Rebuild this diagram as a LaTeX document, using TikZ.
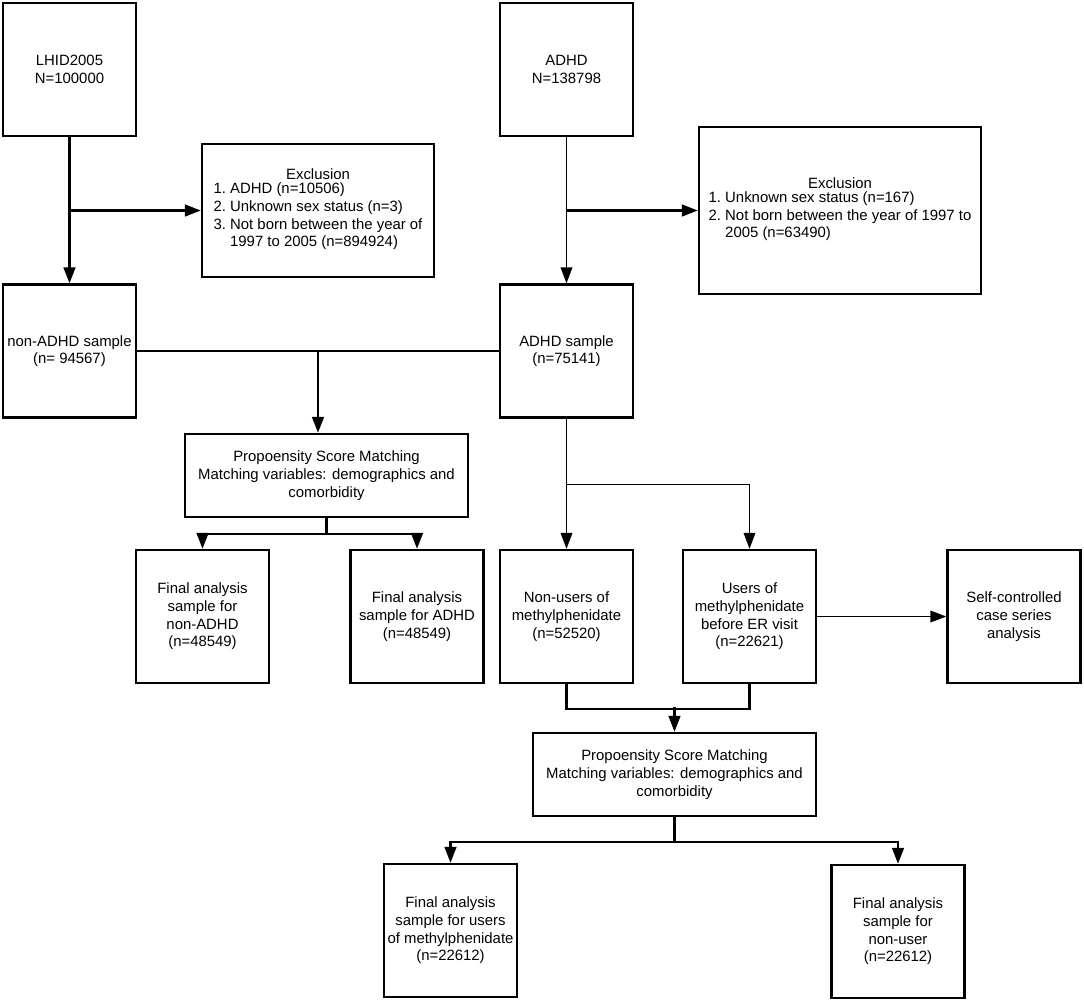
\documentclass[tikz,border=0pt]{standalone}
\usepackage{fontspec}
\setmainfont{Liberation Sans}
\usetikzlibrary{arrows.meta,positioning,calc}

\begin{document}
\begin{tikzpicture}[
    x=0.025cm, y=-0.025cm,
    >={Triangle[length=4mm, width=2.9mm]},
    box/.style={rectangle, draw=black, line width=1.6pt, fill=white,
                minimum width=#1, minimum height=3.325cm, inner sep=2pt,
                align=center, font=\fontsize{10.6}{12.6}\selectfont},
    box/.default=3.325cm,
    arr/.style={->, line width=1.9pt},
    thinarr/.style={->, line width=1.2pt},
    link/.style={line width=1.9pt},
    thinlink/.style={line width=1.2pt},
]
\useasboundingbox (0,0) rectangle (1084,1002);

% ── Source cohorts ──
\node[box] (lhid) at (69.5,69.5) {LHID2005\\N=100000};
\node[box] (adhd) at (566.5,69.5) {ADHD\\N=138798};

% ── Exclusions ──
\node[box=5.8cm] (excl1) at (318,210.5) {Exclusion\\
    \begin{tabular}{@{}r@{\ }l@{}}
    1. & ADHD (n=10506)\\
    2. & Unknown sex status (n=3)\\
    3. & Not born between the year of\\
       & 1997 to 2005 (n=894924)
    \end{tabular}};
\node[box=7.05cm, minimum height=4.175cm] (excl2) at (840,210.5) {Exclusion\\
    \begin{tabular}{@{}r@{\ }l@{}}
    1. & Unknown sex status (n=167)\\
    2. & Not born between the year of 1997 to\\
       & 2005 (n=63490)
    \end{tabular}};

% ── Samples ──
\node[box] (nonadhd) at (69.5,351) {non-ADHD sample\\(n= 94567)};
\node[box] (adhdsample) at (566.5,351) {ADHD sample\\(n=75141)};

% ── First matching and its outcomes ──
\node[box=7.075cm, minimum height=2.075cm] (psmA) at (326.5,475.5)
    {Propoensity Score Matching\\Matching variables: demographics and\\comorbidity};
\node[box] (finalNon) at (202.5,616.5) {Final analysis\\sample for\\non-ADHD\\(n=48549)};
\node[box] (finalAdhd) at (417,616.5) {Final analysis\\sample for ADHD\\(n=48549)};

% ── Methylphenidate groups ──
\node[box] (nonusers) at (566.5,616.5) {Non-users of\\methylphenidate\\(n=52520)};
\node[box] (users) at (749.5,616.5) {Users of\\methylphenidate\\before ER visit\\(n=22621)};
\node[box] (sccs) at (1014,616.5) {Self-controlled\\case series\\analysis};

% ── Second matching and its outcomes ──
\node[box=7.075cm, minimum height=2.075cm] (psmB) at (674.5,774.5)
    {Propoensity Score Matching\\Matching variables: demographics and\\comorbidity};
\node[box] (finalUsers) at (450.5,930.5) {Final analysis\\sample for users\\of methylphenidate\\(n=22612)};
\node[box] (finalNonuser) at (898,931.5) {Final analysis\\sample for\\non-user\\(n=22612)};

% ── Left column ──
\draw[arr] (lhid) -- (nonadhd);
\draw[arr] (lhid.south |- excl1.west) -- (excl1.west);

% ── Right column ──
\draw[thinarr] (adhd) -- (adhdsample);
\draw[arr] (adhd.south |- excl2.west) -- (excl2.west);

% ── Both samples into first matching ──
\draw[thinlink] (nonadhd) -- (adhdsample);
\coordinate (joinA) at ($(nonadhd.east)!0.5!(adhdsample.west)$);
\draw[arr] (joinA) -- (joinA |- psmA.north);
\draw[arr] (psmA.south) -- ++(0,16) -| (finalNon.north);
\draw[arr] (psmA.south) -- ++(0,16) -| (finalAdhd.north);

% ── ADHD sample split by methylphenidate use ──
\draw[thinarr] (adhdsample) -- (nonusers);
\draw[thinarr] (adhdsample.south) -- ++(0,66) -| (users.north);
\draw[thinarr] (users) -- (sccs);

% ── Both groups into second matching ──
\draw[link] (nonusers.south) -- ++(0,25) -| (users.south);
\coordinate (joinB) at ($(psmB.north)+(0,-25)$);
\draw[arr] (joinB) -- (psmB.north);
\draw[arr] (psmB.south) -- ++(0,25) -| (finalUsers.north);
\draw[arr] (psmB.south) -- ++(0,25) -| (finalNonuser.north);

\end{tikzpicture}
\end{document}
